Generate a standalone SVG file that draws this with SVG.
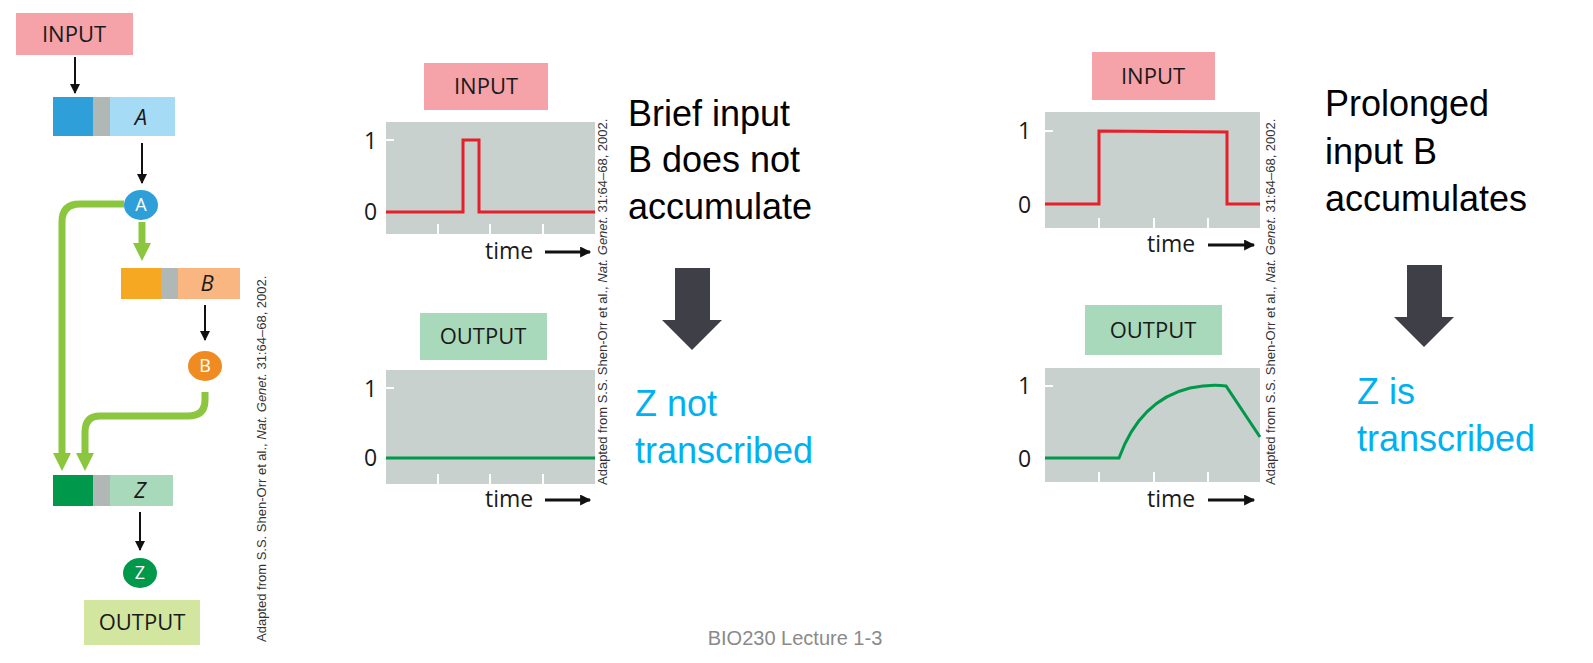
<svg xmlns="http://www.w3.org/2000/svg" width="1593" height="663" viewBox="0 0 1593 663">
<defs>
<style>
.lab{font-family:"Open Sans","Liberation Sans",sans-serif;font-size:22px;fill:#1a1a1a;text-anchor:middle}
.ax{font-family:"Open Sans","Liberation Sans",sans-serif;font-size:23px;fill:#1a1a1a}
.cite{font-family:"Liberation Sans",sans-serif;font-size:13px;fill:#333}
.big{font-family:"Liberation Sans",Arial,sans-serif;font-size:36px;fill:#000}
.blue{font-family:"Liberation Sans",Arial,sans-serif;font-size:36px;fill:#00b0f0}
.plot{fill:#c8d1cd}
.tick{stroke:#fff;stroke-width:2}
.blk{stroke:#111;stroke-width:2;fill:none}
.grn{stroke:#8cc63f;stroke-width:7;fill:none}
.ct{font-family:"Open Sans","Liberation Sans",sans-serif;font-size:18px;fill:#fff;text-anchor:middle}
</style>
<marker id="ah" viewBox="0 0 10 10" refX="9" refY="5" markerWidth="10" markerHeight="10" markerUnits="userSpaceOnUse" orient="auto"><path d="M0,0L10,5L0,10z" fill="#111"/></marker>
<marker id="gh" viewBox="0 0 10 10" refX="5" refY="5" markerWidth="18" markerHeight="20" markerUnits="userSpaceOnUse" orient="auto"><path d="M0,0L10,5L0,10z" fill="#8cc63f"/></marker>
<marker id="th" viewBox="0 0 10 10" refX="9" refY="5" markerWidth="16" markerHeight="11" markerUnits="userSpaceOnUse" orient="auto"><path d="M0,0L10,5L0,10z" fill="#111"/></marker>
</defs>

<g id="connectors">
<line class="blk" x1="75" y1="57" x2="75" y2="93" marker-end="url(#ah)"/>
<line class="blk" x1="142" y1="143" x2="142" y2="183" marker-end="url(#ah)"/>
<line class="blk" x1="205" y1="305" x2="205" y2="340" marker-end="url(#ah)"/>
<line class="blk" x1="140" y1="512" x2="140" y2="550" marker-end="url(#ah)"/>
<line class="grn" x1="142" y1="222" x2="142" y2="252" marker-end="url(#gh)"/>
<path class="grn" d="M124,204 H80 Q62,204 62,222 V462" marker-end="url(#gh)"/>
<path class="grn" d="M205,392 V400 Q205,416 188,416 H100 Q85,416 85,432 V462" marker-end="url(#gh)"/>
</g>

<g id="input-left"><rect x="16" y="13" width="117" height="42" fill="#f5a3a8"/><text class="lab" x="74" y="42">INPUT</text></g>
<g id="geneA"><rect x="53" y="97" width="40" height="39" fill="#2e9fd8"/><rect x="93" y="97" width="17" height="39" fill="#b0b8b6"/><rect x="110" y="97" width="65" height="39" fill="#a6dbf5"/><text class="lab" x="141" y="125" font-style="italic">A</text></g>
<g id="protA"><ellipse cx="141" cy="205" rx="17" ry="15" fill="#2e9fd8"/><text class="ct" x="141" y="211">A</text></g>
<g id="geneB"><rect x="121" y="268" width="40" height="31" fill="#f7a823"/><rect x="161" y="268" width="17" height="31" fill="#b0b8b6"/><rect x="178" y="268" width="62" height="31" fill="#f9b681"/><text class="lab" x="207" y="291" font-style="italic">B</text></g>
<g id="protB"><ellipse cx="205" cy="366" rx="17" ry="15" fill="#f08b21"/><text class="ct" x="205" y="372">B</text></g>
<g id="geneZ"><rect x="53" y="475" width="40" height="31" fill="#00984a"/><rect x="93" y="475" width="17" height="31" fill="#b0b8b6"/><rect x="110" y="475" width="63" height="31" fill="#a9d9bb"/><text class="lab" x="140" y="498" font-style="italic">Z</text></g>
<g id="protZ"><ellipse cx="140" cy="573" rx="17" ry="15" fill="#00984a"/><text class="ct" x="140" y="579">Z</text></g>
<g id="output-left"><rect x="84" y="600" width="116" height="45" fill="#d3e6a0"/><text class="lab" x="142" y="630">OUTPUT</text></g>
<text class="cite" transform="translate(266,642) rotate(-90)">Adapted from S.S. Shen-Orr et al., <tspan font-style="italic">Nat. Genet.</tspan> 31:64–68, 2002.</text>

<g id="mid-input">
<rect x="424" y="63" width="124" height="47" fill="#f5a3a8"/><text class="lab" x="486" y="94">INPUT</text>
<rect class="plot" x="386" y="122" width="209" height="112"/>
<line class="tick" x1="386" y1="140" x2="394" y2="140"/>
<line class="tick" x1="438" y1="224" x2="438" y2="234"/><line class="tick" x1="490" y1="224" x2="490" y2="234"/><line class="tick" x1="543" y1="224" x2="543" y2="234"/>
<text class="ax" x="364" y="149">1</text><text class="ax" x="364" y="220">0</text>
<polyline points="386,212 463,212 463,140 479,140 479,212 595,212" fill="none" stroke="#e4202a" stroke-width="3"/>
<text class="ax" x="485" y="259">time</text><line x1="545" y1="252" x2="590" y2="252" stroke="#111" stroke-width="3" marker-end="url(#th)"/>
</g>
<g id="mid-output">
<rect x="420" y="313" width="127" height="47" fill="#a9d9bb"/><text class="lab" x="483" y="344">OUTPUT</text>
<rect class="plot" x="386" y="370" width="209" height="114"/>
<line class="tick" x1="386" y1="388" x2="394" y2="388"/>
<line class="tick" x1="438" y1="474" x2="438" y2="484"/><line class="tick" x1="490" y1="474" x2="490" y2="484"/><line class="tick" x1="543" y1="474" x2="543" y2="484"/>
<text class="ax" x="364" y="397">1</text><text class="ax" x="364" y="466">0</text>
<line x1="386" y1="458" x2="595" y2="458" stroke="#00984a" stroke-width="3"/>
<text class="ax" x="485" y="507">time</text><line x1="545" y1="500" x2="590" y2="500" stroke="#111" stroke-width="3" marker-end="url(#th)"/>
</g>
<text class="cite" font-size="10.5" transform="translate(607,485) rotate(-90)">Adapted from S.S. Shen-Orr et al., <tspan font-style="italic">Nat. Genet.</tspan> 31:64–68, 2002.</text>

<g id="brief-text"><text class="big" x="628" y="126">Brief input</text><text class="big" x="628" y="172">B does not</text><text class="big" x="628" y="219">accumulate</text></g>
<g id="arrow1"><path d="M675,268H710V320H722L692,350L662,320H675Z" fill="#3f3f47"/></g>
<g id="znot"><text class="blue" x="635" y="416">Z not</text><text class="blue" x="635" y="463">transcribed</text></g>

<g id="right-input">
<rect x="1092" y="52" width="123" height="48" fill="#f5a3a8"/><text class="lab" x="1153" y="84">INPUT</text>
<rect class="plot" x="1045" y="112" width="215" height="116"/>
<line class="tick" x1="1045" y1="131" x2="1053" y2="131"/>
<line class="tick" x1="1099" y1="218" x2="1099" y2="228"/><line class="tick" x1="1154" y1="218" x2="1154" y2="228"/><line class="tick" x1="1208" y1="218" x2="1208" y2="228"/>
<text class="ax" x="1018" y="139">1</text><text class="ax" x="1018" y="213">0</text>
<polyline points="1045,204 1099,204 1099,131 1227,132 1227,204 1260,204" fill="none" stroke="#e4202a" stroke-width="3"/>
<text class="ax" x="1147" y="252">time</text><line x1="1208" y1="245" x2="1254" y2="245" stroke="#111" stroke-width="3" marker-end="url(#th)"/>
</g>
<g id="right-output">
<rect x="1085" y="305" width="137" height="50" fill="#a9d9bb"/><text class="lab" x="1153" y="338">OUTPUT</text>
<rect class="plot" x="1045" y="368" width="215" height="114"/>
<line class="tick" x1="1045" y1="386" x2="1053" y2="386"/>
<line class="tick" x1="1099" y1="472" x2="1099" y2="482"/><line class="tick" x1="1154" y1="472" x2="1154" y2="482"/><line class="tick" x1="1208" y1="472" x2="1208" y2="482"/>
<text class="ax" x="1018" y="394">1</text><text class="ax" x="1018" y="467">0</text>
<path d="M1045,458 H1119 Q1140,400 1190,388 Q1210,384 1226,386 L1260,437" fill="none" stroke="#00984a" stroke-width="3"/>
<text class="ax" x="1147" y="507">time</text><line x1="1208" y1="500" x2="1254" y2="500" stroke="#111" stroke-width="3" marker-end="url(#th)"/>
</g>
<text class="cite" font-size="10.5" transform="translate(1275,485) rotate(-90)">Adapted from S.S. Shen-Orr et al., <tspan font-style="italic">Nat. Genet.</tspan> 31:64–68, 2002.</text>

<g id="prolonged-text"><text class="big" x="1325" y="116">Prolonged</text><text class="big" x="1325" y="164">input B</text><text class="big" x="1325" y="211">accumulates</text></g>
<g id="arrow2"><path d="M1407,265H1442V317H1454L1424,347L1394,317H1407Z" fill="#3f3f47"/></g>
<g id="zis"><text class="blue" x="1357" y="404">Z is</text><text class="blue" x="1357" y="451">transcribed</text></g>

<text x="795" y="645" font-family="Liberation Sans,Arial,sans-serif" font-size="20" fill="#8a8a8a" text-anchor="middle">BIO230 Lecture 1-3</text>
</svg>
